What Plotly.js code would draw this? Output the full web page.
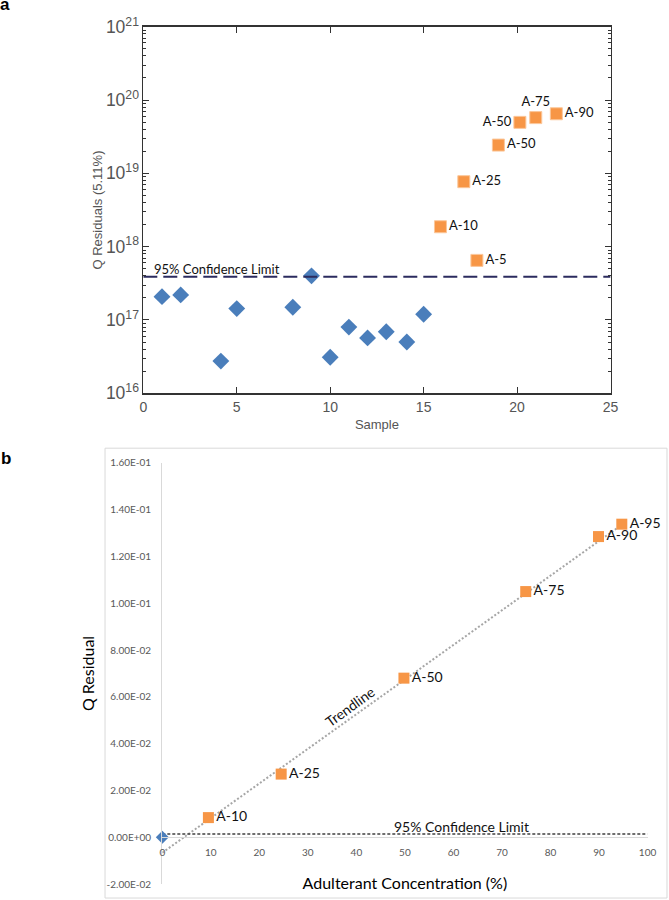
<!DOCTYPE html>
<html><head><meta charset="utf-8">
<script src="https://cdn.plot.ly/plotly-3.0.1.min.js"></script>
<style>html,body{margin:0;padding:0;background:#fff}#chart{width:669px;height:900px}</style>
</head><body><div id="chart"></div>
<script>
// ---- Panel a ----
const sampleX = [1, 2, 4.15, 5, 8, 9, 10, 11, 12, 13, 14.1, 15];
const sampleQ = [2.08e17, 2.2e17, 2.75e16, 1.43e17, 1.49e17, 4.0e17, 3.1e16, 8.0e16, 5.7e16, 6.9e16, 5.0e16, 1.2e17];
const adultX = [15.9, 17.15, 17.85, 19.0, 20.15, 21.0, 22.1];
const adultQ = [1.87e18, 7.7e18, 6.5e17, 2.43e19, 4.96e19, 5.76e19, 6.5e19];
const adultLabels = ['A-10', 'A-25', 'A-5', 'A-50', 'A-50', 'A-75', 'A-90'];
const limitAX = [0, 25];
const limitAQ = [3.9e17, 3.9e17];
const aDecades = [16, 17, 18, 19, 20, 21];

// ---- Panel b ----
const pureConc = [0];
const pureQ = [0];
const adultConc = [9.5, 24.5, 49.8, 74.9, 89.9, 94.7];
const adultQb = [0.0084, 0.027, 0.068, 0.105, 0.1285, 0.1338];
const adultLabelsB = ['A-10', 'A-25', 'A-50', 'A-75', 'A-90', 'A-95'];
const trendConc = [0, 95];
const trendQ = [-0.0066, 0.134];
const limitBConc = [0, 100];
const limitBQ = [0.0014, 0.0014];
const bYTickVals = [-0.02, 0, 0.02, 0.04, 0.06, 0.08, 0.10, 0.12, 0.14, 0.16];
const bYTickText = ['-2.00E-02', '0.00E+00', '2.00E-02', '4.00E-02', '6.00E-02', '8.00E-02', '1.00E-01', '1.20E-01', '1.40E-01', '1.60E-01'];
const bXTickVals = [0, 10, 20, 30, 40, 50, 60, 70, 80, 90, 100];

// minor tick positions of the log axis (2..9 in each decade)
const aMinorVals = [];
aDecades.slice(0, -1).forEach(d => { for (let m = 2; m <= 9; m++) aMinorVals.push(m * Math.pow(10, d)); });

const BLUE = '#4a7ebb', ORANGE = '#f79646';
const LAB = 'Lato, "Open Sans", sans-serif';
const ARIAL = '"Liberation Sans", Arial, sans-serif';

const traces = [
  {x: limitAX, y: limitAQ, xaxis: 'x', yaxis: 'y3', mode: 'lines',
   line: {color: '#2b2b5e', width: 2, dash: '14px,6px'}, hoverinfo: 'skip'},
  {x: sampleX, y: sampleQ, xaxis: 'x', yaxis: 'y', mode: 'markers',
   marker: {symbol: 'diamond', size: 13, color: BLUE}},
  {x: adultX, y: adultQ, xaxis: 'x', yaxis: 'y', mode: 'markers+text',
   text: adultLabels,
   textposition: ['middle right', 'middle right', 'middle right', 'middle right', 'middle left', 'top center', 'middle right'],
   textfont: {family: LAB, size: 13, color: '#111'},
   marker: {symbol: 'square', size: 12, color: ORANGE, line: {color: '#fbc79a', width: 1}}},

  {x: trendConc, y: trendQ, xaxis: 'x2', yaxis: 'y2', mode: 'lines',
   line: {color: '#a6a6a6', width: 2, dash: '2px,2px'}, hoverinfo: 'skip'},
  {x: limitBConc, y: limitBQ, xaxis: 'x2', yaxis: 'y2', mode: 'lines',
   line: {color: '#404040', width: 1.5, dash: '3px,2px'}, hoverinfo: 'skip'},
  {x: pureConc, y: pureQ, xaxis: 'x2', yaxis: 'y2', mode: 'markers', cliponaxis: false,
   marker: {symbol: 'diamond', size: 10, color: BLUE}},
  {x: adultConc, y: adultQb, xaxis: 'x2', yaxis: 'y2', mode: 'markers+text', cliponaxis: false,
   text: adultLabelsB, textposition: 'middle right',
   textfont: {family: LAB, size: 14, color: '#111'},
   marker: {symbol: 'square', size: 11, color: ORANGE}}
];

const layout = {
  width: 669, height: 900, margin: {l: 0, r: 0, t: 0, b: 0},
  paper_bgcolor: '#fff', plot_bgcolor: '#fff', showlegend: false,
  xaxis: {domain: [0.2142, 0.9126], range: [0, 25], anchor: 'y',
    showline: true, linecolor: '#333', linewidth: 1.5, mirror: 'ticks',
    ticks: 'inside', ticklen: 6, tickcolor: '#333', tick0: 0, dtick: 5,
    showgrid: false, zeroline: false,
    tickfont: {family: ARIAL, size: 14, color: '#555'},
    title: {text: 'Sample', font: {family: ARIAL, size: 13, color: '#555'}, standoff: 6}},
  yaxis: {domain: [0.563, 0.9703], type: 'log', range: [16, 21], anchor: 'x',
    showline: true, linecolor: '#333', linewidth: 1.5, mirror: 'ticks',
    ticks: 'inside', ticklen: 6, tickcolor: '#333', dtick: 1, exponentformat: 'power',
    showgrid: false, zeroline: false,
    tickfont: {family: ARIAL, size: 14, color: '#555'},
    title: {text: 'Q Residuals (5.11%)', font: {family: ARIAL, size: 13, color: '#555'}, standoff: 0}},
  yaxis3: {overlaying: 'y', type: 'log', range: [16, 21], anchor: 'x', side: 'left',
    showline: true, linecolor: '#333', linewidth: 1.5, mirror: 'ticks',
    tickmode: 'array', tickvals: aMinorVals, ticks: 'inside', ticklen: 3, tickcolor: '#333',
    showticklabels: false, showgrid: false, zeroline: false},
  xaxis2: {domain: [0.2426, 0.9679], range: [0, 100], anchor: 'free', position: 0.0697,
    showline: true, linecolor: '#d9d9d9', linewidth: 1.2, ticks: '',
    tickmode: 'array', tickvals: bXTickVals, ticklabelstandoff: 6,
    showgrid: false, zeroline: false,
    tickfont: {family: LAB, size: 10, color: '#595959'},
    title: {text: 'Adulterant Concentration (%)', font: {family: LAB, size: 16, color: '#000'}, standoff: 20}},
  yaxis2: {domain: [0.0177, 0.4857], range: [-0.02, 0.16], anchor: 'x2',
    showline: true, linecolor: '#d9d9d9', linewidth: 1.2, ticks: '',
    tickmode: 'array', tickvals: bYTickVals, ticktext: bYTickText, ticklabelstandoff: 8,
    showgrid: false, zeroline: false,
    tickfont: {family: LAB, size: 10, color: '#595959'},
    title: {text: 'Q Residual', font: {family: LAB, size: 16, color: '#000'}, standoff: 8}},
  shapes: [
    {type: 'rect', xref: 'paper', yref: 'paper', x0: 0.157, x1: 0.997, y0: 0.0022, y1: 0.502,
     line: {color: '#d9d9d9', width: 1}, layer: 'below'}
  ],
  annotations: [
    {text: '<b>a</b>', xref: 'paper', yref: 'paper', x: 0.0075, y: 0.9945, xanchor: 'center', yanchor: 'middle',
     showarrow: false, font: {family: ARIAL, size: 17, color: '#000'}},
    {text: '<b>b</b>', xref: 'paper', yref: 'paper', x: 0.009, y: 0.4911, xanchor: 'center', yanchor: 'middle',
     showarrow: false, font: {family: ARIAL, size: 17, color: '#000'}},
    {text: '95% Confidence Limit', xref: 'x', yref: 'y', x: 0.45, y: 17.7, xanchor: 'left', yanchor: 'middle',
     showarrow: false, font: {family: LAB, size: 13, color: '#111'}},
    {text: '95% Confidence Limit', xref: 'x2', yref: 'y2', x: 61.7, y: 0.0045, xanchor: 'center', yanchor: 'middle',
     showarrow: false, font: {family: LAB, size: 14, color: '#111'}},
    {text: 'Trendline', xref: 'x2', yref: 'y2', x: 38.7, y: 0.0557, xanchor: 'center', yanchor: 'middle',
     textangle: -36, showarrow: false, font: {family: LAB, size: 14, color: '#111'}}
  ]
};

Plotly.newPlot('chart', traces, layout, {staticPlot: true, displayModeBar: false});
</script>
</body></html>
